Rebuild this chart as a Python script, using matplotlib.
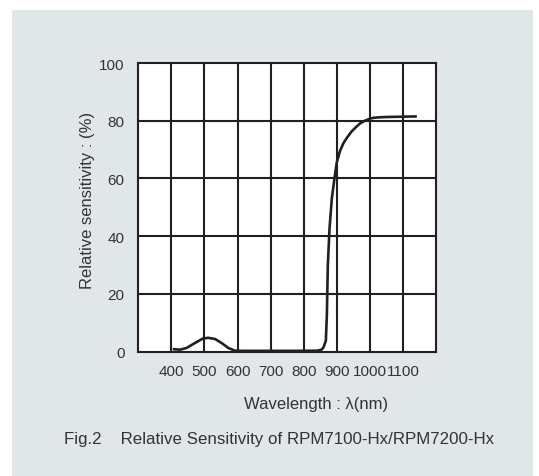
import matplotlib.pyplot as plt
from matplotlib.patches import Rectangle

plt.rcParams['font.family'] = ['Liberation Sans', 'DejaVu Sans']

# wavelength (nm) and relative sensitivity (%)
wavelength = [404, 426, 446, 471, 496, 512, 532, 552, 572, 592, 620, 700, 780, 841,
              854, 860, 867, 870, 873, 878, 885, 893, 900, 910, 920, 930, 945,
              960, 972, 985, 1000, 1010, 1030, 1051, 1100, 1142]
sensitivity = [0.9, 0.7, 1.3, 3.0, 4.6, 4.8, 4.4, 3.0, 1.3, 0.35, 0.3, 0.3, 0.3, 0.35,
               0.7, 1.5, 3.8, 12.5, 30, 42.5, 53, 60, 65.6, 69.6, 72.2, 74, 76.3,
               78, 79.2, 80, 80.7, 81, 81.2, 81.3, 81.4, 81.5]

xticks = [400, 500, 600, 700, 800, 900, 1000, 1100]
yticks = [0, 20, 40, 60, 80, 100]

panel = '#e1e6e9'
ink = '#231f20'
txt = '#333333'

fig = plt.figure(figsize=(5.39, 4.77), dpi=100)
fig.patch.set_facecolor('white')
fig.patches.append(Rectangle((12 / 539, 0), (533 - 12) / 539, 1 - 11 / 477,
                             transform=fig.transFigure, facecolor=panel,
                             edgecolor='none', zorder=-1))

ax = fig.add_axes([138.3 / 539, 124.3 / 477, 297.7 / 539, 288.7 / 477])
ax.set_zorder(2)
ax.set_facecolor('white')
ax.set_xlim(300, 1200)
ax.set_ylim(0, 100)

for x in xticks:
    ax.axvline(x, color=ink, lw=1.5, zorder=1)
for y in yticks[1:-1]:
    ax.axhline(y, color=ink, lw=1.5, zorder=1)

ax.plot(wavelength, sensitivity, color=ink, lw=1.9, zorder=3,
        solid_capstyle='butt', solid_joinstyle='round')

for s in ax.spines.values():
    s.set_color(ink)
    s.set_linewidth(1.5)

ax.set_xticks(xticks)
ax.set_xticklabels([str(v) for v in xticks])
ax.set_yticks(yticks)
ax.tick_params(axis='both', length=0, labelsize=11, colors=txt)
ax.tick_params(axis='y', pad=10)
ax.tick_params(axis='x', pad=9)

ax.set_ylabel('Relative sensitivity : (%)', fontsize=12, color=txt)
ax.yaxis.set_label_coords(-0.145, 0.529)
fig.text(316 / 539, 1 - 405 / 477, 'Wavelength : λ(nm)', fontsize=12,
         color=txt, ha='center', va='center')
fig.text(279 / 539, 1 - 440 / 477,
         'Fig.2    Relative Sensitivity of RPM7100-Hx/RPM7200-Hx',
         fontsize=12.2, color=txt, ha='center', va='center')

fig.savefig('out.png', dpi=100, facecolor=fig.get_facecolor())
